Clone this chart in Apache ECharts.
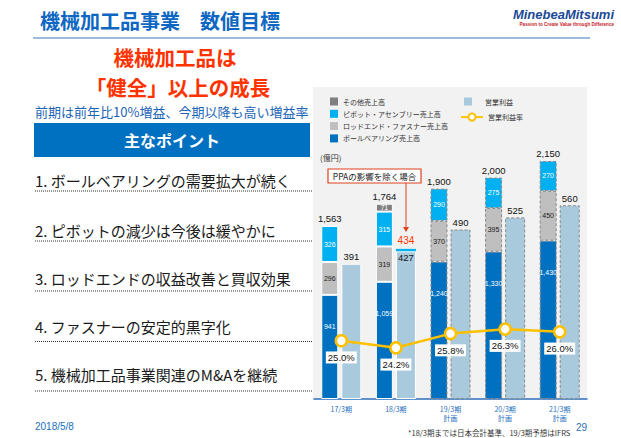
<!DOCTYPE html>
<html><head><meta charset="utf-8">
<script src="https://cdn.jsdelivr.net/npm/echarts@6/dist/echarts.min.js"></script>
<style>html,body{margin:0;padding:0;background:#fff;}#c{width:621px;height:438px;}</style>
</head><body><div id="c"></div>
<script>
// ---- data ----
const categories = ['17/3期', '18/3期', '19/3期\n計画', '20/3期\n計画', '21/3期\n計画'];
const ballBearing = [941, 1059, 1240, 1330, 1430];
const rodEndFastener = [296, 319, 370, 395, 450];
const pivotAssembly = [326, 315, 290, 275, 270];
const otherSales = [null, 71, null, null, null];
const totalSales = [1563, 1764, 1900, 2000, 2150];
const operatingProfit = [391, 427, 490, 525, 560];
const ppaAdjustment = [null, 7, null, null, null];      // 434 - 427
const ppaProfitLabel = [null, 434, null, null, null];
const operatingMargin = [25.0, 24.2, 25.8, 26.3, 26.0];
const planFlags = [false, false, true, true, true];
const keyPoints = [
  '1. ボールベアリングの需要拡大が続く',
  '2. ピボットの減少は今後は緩やかに',
  '3. ロッドエンドの収益改善と買収効果',
  '4. ファスナーの安定的黒字化',
  '5. 機械加工品事業関連のM&Aを継続'
];

const CJK = '"Noto Sans CJK JP", sans-serif';
const LAT = '"Liberation Sans", Arial, sans-serif';
const fmt = v => Number(v).toLocaleString('en-US');
const planBorder = { borderColor: '#8a8a8a', borderWidth: 1, borderType: [3, 2] };
const actualBorder = { borderColor: '#ffffff', borderWidth: 1 };

function segData(values) {
  return values.map((v, i) => v == null ? null : {
    value: v,
    itemStyle: planFlags[i] ? planBorder : actualBorder
  });
}
function segSeries(name, values, color, labelColor, labelExtra) {
  return {
    name, type: 'bar', stack: 'sales', barWidth: 17, barGap: '18%',
    itemStyle: { color },
    data: segData(values),
    label: Object.assign({
      show: true, position: 'inside', color: labelColor, fontSize: 7, fontFamily: LAT,
      formatter: p => fmt(p.value)
    }, labelExtra || {})
  };
}

const chart = echarts.init(document.getElementById('c'), null, { renderer: 'svg' });

const legendText = { fontSize: 7, fontFamily: CJK, color: '#333', lineHeight: 8 };

const graphic = [
  { type: 'rect', z: 0, silent: true, shape: { x: 313, y: 87, width: 274, height: 312 }, style: { fill: '#f2f2f2' } },
  { type: 'text', x: 40, y: 20, style: { text: '機械加工品事業　数値目標', font: 'bold 20px ' + CJK, fill: '#0d67c2', verticalAlign: 'middle' } },
  { type: 'line', shape: { x1: 33, y1: 38, x2: 590, y2: 38 }, style: { stroke: '#7aa3d2', lineWidth: 1.5 } },
  { type: 'text', x: 614, y: 14, style: { text: 'MinebeaMitsumi', font: 'italic bold 13px ' + LAT, fill: '#1b4a96', align: 'right', verticalAlign: 'middle' } },
  { type: 'text', x: 614, y: 24, style: { text: 'Passion to Create Value through Difference', font: 'bold 4.6px ' + LAT, fill: '#c8202a', align: 'right', verticalAlign: 'middle' } },
  { type: 'text', x: 175, y: 56.5, style: { text: '機械加工品は', font: 'bold 20.5px ' + CJK, fill: '#ff3300', align: 'center', verticalAlign: 'middle' } },
  { type: 'text', x: 178, y: 86.5, style: { text: '「健全」以上の成長', font: 'bold 20.5px ' + CJK, fill: '#ff3300', align: 'center', verticalAlign: 'middle' } },
  { type: 'text', x: 35, y: 111, style: { text: '前期は前年比10%増益、今期以降も高い増益率', font: '13px ' + CJK, fill: '#1c64b6', verticalAlign: 'middle' } },
  { type: 'rect', shape: { x: 34, y: 123, width: 276, height: 34 }, style: { fill: '#0070c0' } },
  { type: 'text', x: 172, y: 140, style: { text: '主なポイント', font: 'bold 16px ' + CJK, fill: '#ffffff', align: 'center', verticalAlign: 'middle' } },
  { type: 'text', x: 35, y: 426, style: { text: '2018/5/8', font: '10px ' + LAT, fill: '#2070c0', verticalAlign: 'middle' } },
  { type: 'text', x: 408, y: 432, style: { text: '*18/3期までは日本会計基準、19/3期予想はIFRS', font: '7.5px ' + CJK, fill: '#333', verticalAlign: 'middle' } },
  { type: 'text', x: 587, y: 427, style: { text: '29', font: '10px ' + LAT, fill: '#2f6fba', align: 'right', verticalAlign: 'middle' } },
  { type: 'text', x: 320, y: 157, style: { text: '(億円)', font: '8px ' + CJK, fill: '#333', verticalAlign: 'middle' } },
  { type: 'rect', z: 50, shape: { x: 328, y: 169, width: 93, height: 14 }, style: { fill: '#ffffff', stroke: '#e0401e', lineWidth: 1.2 } },
  { type: 'text', z: 51, x: 374.5, y: 176, style: { text: 'PPAの影響を除く場合', font: '8.5px ' + CJK, fill: '#222', align: 'center', verticalAlign: 'middle' } },
  { type: 'line', z: 50, shape: { x1: 406, y1: 183, x2: 406, y2: 228 }, style: { stroke: '#e0401e', lineWidth: 1 } },
  { type: 'polygon', z: 50, shape: { points: [[403, 227], [409, 227], [406, 232]] }, style: { fill: '#e0401e' } }
];
const pointY = [180, 230, 278, 326, 374];
const dotY = [191, 241, 291, 341.5, 391];
keyPoints.forEach((t, i) => {
  graphic.push({ type: 'text', x: 35, y: pointY[i], style: { text: t, font: '15px ' + CJK, fill: '#1a1a1a', verticalAlign: 'middle' } });
  graphic.push({ type: 'line', shape: { x1: 35, y1: dotY[i], x2: 312, y2: dotY[i] }, style: { stroke: '#333', lineWidth: 1, lineDash: [1, 1] } });
});

const option = {
  animation: false,
  backgroundColor: '#ffffff',
  grid: { left: 314, right: 34, top: 122.25, bottom: 39, containLabel: false },
  legend: [
    { data: ['その他売上高', 'ピボット・アセンブリー売上高', 'ロッドエンド・ファスナー売上高', 'ボールベアリング売上高'],
      orient: 'vertical', left: 330, top: 97.5, padding: 0, itemWidth: 8, itemHeight: 8, itemGap: 4.3, icon: 'rect',
      selectedMode: false, textStyle: legendText },
    { data: ['営業利益'], left: 464, top: 97.5, padding: 0, itemWidth: 8, itemHeight: 8, icon: 'rect', selectedMode: false,
      textStyle: Object.assign({}, legendText, { padding: [0, 0, 0, 8] }) },
    { data: ['営業利益率'], left: 460, top: 112.5, padding: 0, itemWidth: 22, itemHeight: 9, selectedMode: false, textStyle: legendText }
  ],
  xAxis: {
    type: 'category', data: categories,
    axisLine: { lineStyle: { color: '#2f6fba', width: 1.5 } },
    axisTick: { length: 5, interval: i => i > 0, lineStyle: { color: '#2f6fba', width: 1.5 } },
    axisLabel: { color: '#1f6fc0', fontSize: 7, fontFamily: CJK, margin: 5, lineHeight: 9, interval: 0 }
  },
  yAxis: [
    { type: 'value', min: 0, max: 2500, show: false },
    { type: 'value', min: 0, max: 800, show: false },
    { type: 'value', min: 18.45, max: 49.55, show: false }
  ],
  series: [
    segSeries('ボールベアリング売上高', ballBearing, '#0070c0', '#ffffff', { position: 'insideTop', distance: 28 }),
    segSeries('ロッドエンド・ファスナー売上高', rodEndFastener, '#bfbfbf', '#1a1a1a'),
    segSeries('ピボット・アセンブリー売上高', pivotAssembly, '#00b0f0', '#ffffff'),
    segSeries('その他売上高', otherSales, '#7f7f7f', '#ffffff'),
    {
      name: 'total', type: 'bar', stack: 'sales', barWidth: 17, barGap: '18%', silent: true,
      itemStyle: { color: 'rgba(0,0,0,0)' },
      data: totalSales.map(() => 0),
      label: { show: true, position: 'top', distance: 2, fontSize: 9.5, fontFamily: LAT, color: '#111',
        formatter: p => fmt(totalSales[p.dataIndex]) }
    },
    {
      name: '営業利益', type: 'bar', yAxisIndex: 1, stack: 'profit', barWidth: 20, barGap: '18%',
      itemStyle: { color: '#a9cadc' },
      data: operatingProfit.map((v, i) => {
        const d = { value: v, itemStyle: planFlags[i] ? planBorder : actualBorder };
        if (ppaAdjustment[i] != null) d.label = { position: 'insideTop', distance: 1 };
        return d;
      }),
      label: { show: true, position: 'top', distance: 2, fontSize: 9.5, fontFamily: LAT, color: '#111' }
    },
    {
      name: 'ppa', type: 'bar', yAxisIndex: 1, stack: 'profit', barWidth: 20, barGap: '18%', silent: true,
      itemStyle: { color: '#e4f3fb', borderColor: '#00b0f0', borderWidth: 1.5 },
      data: ppaAdjustment,
      label: { show: true, position: 'top', distance: 3, fontSize: 10, fontFamily: LAT, color: '#ff3300',
        formatter: p => ppaProfitLabel[p.dataIndex] }
    },
    {
      name: '営業利益率', type: 'line', yAxisIndex: 2, z: 10,
      data: operatingMargin,
      symbol: 'circle', symbolSize: 11,
      lineStyle: { color: '#ffc000', width: 2.5 },
      itemStyle: { color: '#ffffff', borderColor: '#ffc000', borderWidth: 2.5 },
      label: { show: true, position: 'bottom', distance: 4, fontSize: 9.5, fontFamily: LAT, color: '#111',
        backgroundColor: '#ffffff', padding: [1, 2, 1, 2],
        formatter: p => p.value.toFixed(1) + '%' }
    }
  ],
  graphic
};
chart.setOption(option);
</script>
</body></html>
